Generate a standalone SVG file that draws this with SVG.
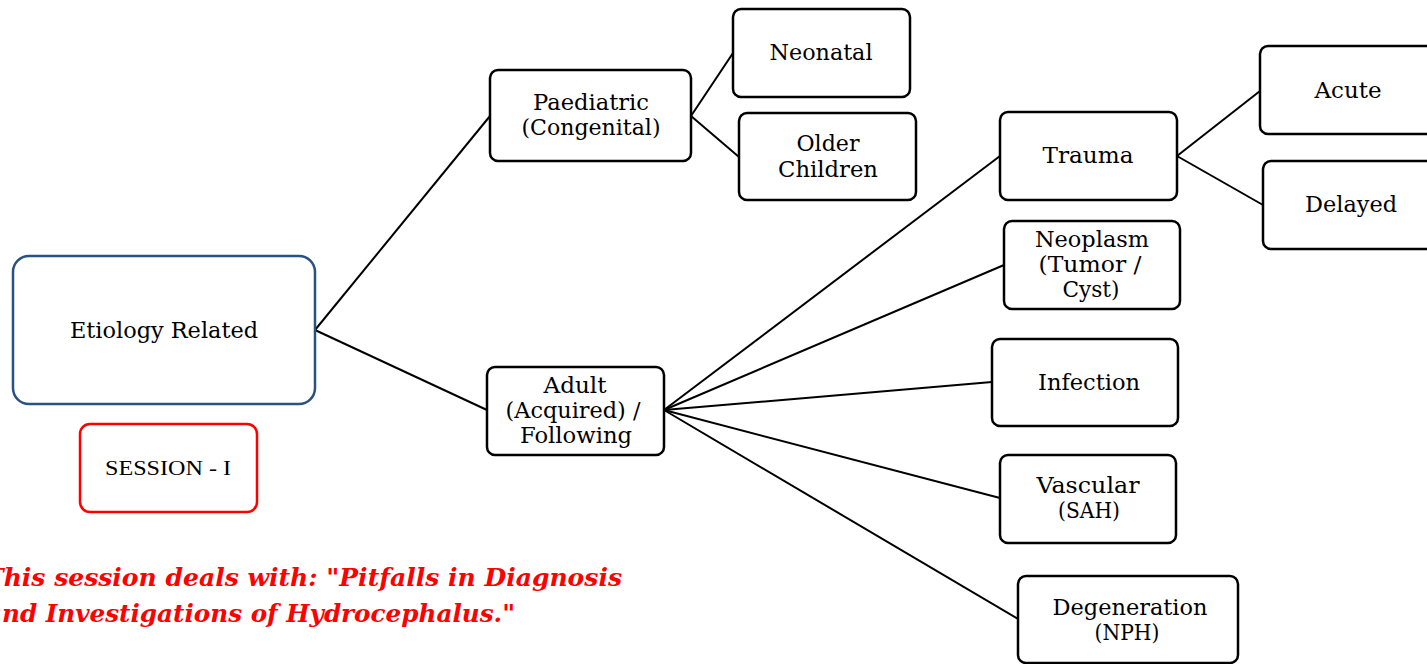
<svg xmlns="http://www.w3.org/2000/svg" width="1427" height="664" viewBox="0 0 1427 664">
<style>
.box{fill:#fff;stroke:#000;stroke-width:2.5}
.t{font-family:"DejaVu Serif","Liberation Serif",serif;font-size:22px;fill:#000;text-anchor:middle}
.c line{stroke:#000;stroke-width:2}
.red{font-family:"DejaVu Serif","Liberation Serif",serif;font-size:25px;font-weight:bold;font-style:italic;fill:#ff0000}
</style>
<rect width="1427" height="664" fill="#fff"/>
<g class="c" id="connectors">
<line x1="315" y1="330" x2="490" y2="116"/>
<line x1="315" y1="330" x2="487" y2="410"/>
<line x1="691" y1="116" x2="733" y2="53"/>
<line x1="691" y1="116" x2="739" y2="157"/>
<line x1="664" y1="410" x2="1000" y2="156"/>
<line x1="664" y1="410" x2="1004" y2="265"/>
<line x1="664" y1="410" x2="992" y2="382"/>
<line x1="664" y1="410" x2="1000" y2="498"/>
<line x1="664" y1="410" x2="1018" y2="619"/>
<line x1="1177" y1="156" x2="1260" y2="91"/>
<line x1="1177" y1="156" x2="1263" y2="205"/>
</g>
<g id="etiology">
<rect x="13" y="256" width="302" height="148" rx="16" fill="#fff" stroke="#2a5085" stroke-width="2.5"/>
<text class="t" x="164" y="338" textLength="188" lengthAdjust="spacingAndGlyphs">Etiology Related</text>
</g>
<g id="session">
<rect x="80" y="424" width="177" height="88" rx="10" fill="#fff" stroke="#ff0000" stroke-width="2.5"/>
<text x="168" y="475" font-family="Liberation Serif,serif" font-size="20" text-anchor="middle" textLength="126" lengthAdjust="spacingAndGlyphs">SESSION - I</text>
</g>
<g id="paediatric">
<rect class="box" x="490" y="70" width="201" height="91" rx="8"/>
<text class="t" x="591" y="110" textLength="116" lengthAdjust="spacingAndGlyphs">Paediatric</text>
<text class="t" x="591" y="135" textLength="139" lengthAdjust="spacingAndGlyphs">(Congenital)</text>
</g>
<g id="neonatal">
<rect class="box" x="733" y="9" width="177" height="88" rx="8"/>
<text class="t" x="821" y="60" textLength="103" lengthAdjust="spacingAndGlyphs">Neonatal</text>
</g>
<g id="older">
<rect class="box" x="739" y="113" width="177" height="87" rx="8"/>
<text class="t" x="828" y="151" textLength="63" lengthAdjust="spacingAndGlyphs">Older</text>
<text class="t" x="828" y="177" textLength="100" lengthAdjust="spacingAndGlyphs">Children</text>
</g>
<g id="adult">
<rect class="box" x="487" y="367" width="177" height="88" rx="8"/>
<text class="t" x="575" y="393" textLength="63" lengthAdjust="spacingAndGlyphs">Adult</text>
<text class="t" x="573" y="418" textLength="135" lengthAdjust="spacingAndGlyphs">(Acquired) /</text>
<text class="t" x="576" y="443" textLength="112" lengthAdjust="spacingAndGlyphs">Following</text>
</g>
<g id="trauma">
<rect class="box" x="1000" y="112" width="177" height="88" rx="8"/>
<text class="t" x="1088" y="163" textLength="91" lengthAdjust="spacingAndGlyphs">Trauma</text>
</g>
<g id="acute">
<rect class="box" x="1260" y="46" width="180" height="88" rx="8"/>
<text class="t" x="1348" y="98" textLength="67" lengthAdjust="spacingAndGlyphs">Acute</text>
</g>
<g id="delayed">
<rect class="box" x="1263" y="161" width="180" height="88" rx="8"/>
<text class="t" x="1351" y="212" textLength="92" lengthAdjust="spacingAndGlyphs">Delayed</text>
</g>
<g id="neoplasm">
<rect class="box" x="1004" y="221" width="176" height="88" rx="8"/>
<text class="t" x="1092" y="247" textLength="114" lengthAdjust="spacingAndGlyphs">Neoplasm</text>
<text class="t" x="1090" y="272" textLength="103" lengthAdjust="spacingAndGlyphs">(Tumor  /</text>
<text class="t" x="1091" y="297" textLength="57" lengthAdjust="spacingAndGlyphs">Cyst)</text>
</g>
<g id="infection">
<rect class="box" x="992" y="339" width="186" height="87" rx="8"/>
<text class="t" x="1089" y="390" textLength="102" lengthAdjust="spacingAndGlyphs">Infection</text>
</g>
<g id="vascular">
<rect class="box" x="1000" y="455" width="176" height="88" rx="8"/>
<text class="t" x="1088" y="493" textLength="103" lengthAdjust="spacingAndGlyphs">Vascular</text>
<text class="t" x="1089" y="518" textLength="62" lengthAdjust="spacingAndGlyphs">(SAH)</text>
</g>
<g id="degeneration">
<rect class="box" x="1018" y="576" width="220" height="87" rx="8"/>
<text class="t" x="1130" y="615" textLength="155" lengthAdjust="spacingAndGlyphs">Degeneration</text>
<text class="t" x="1127" y="640" textLength="65" lengthAdjust="spacingAndGlyphs">(NPH)</text>
</g>
<g id="note">
<text class="red" x="-15" y="586" textLength="637" lengthAdjust="spacingAndGlyphs">This session deals with: "Pitfalls in Diagnosis</text>
<text class="red" x="-14" y="622" textLength="529" lengthAdjust="spacingAndGlyphs">and Investigations of Hydrocephalus."</text>
</g>
</svg>
